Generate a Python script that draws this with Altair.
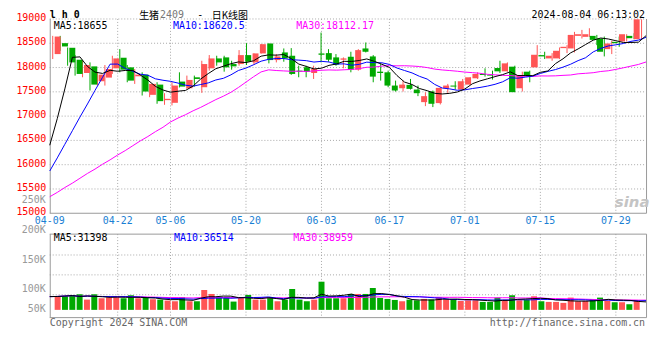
import altair as alt
import pandas as pd

# ---------------- data ----------------
dates = ["04-09","04-10","04-11","04-12","04-15","04-16","04-17","04-18","04-19",
         "04-22","04-23","04-24","04-25","04-26","04-29","04-30",
         "05-06","05-07","05-08","05-09","05-10","05-13","05-14","05-15","05-16","05-17",
         "05-20","05-21","05-22","05-23","05-24","05-27","05-28","05-29","05-30","05-31",
         "06-03","06-04","06-05","06-06","06-07","06-11","06-12","06-13","06-14",
         "06-17","06-18","06-19","06-20","06-21","06-24","06-25","06-26","06-27","06-28",
         "07-01","07-02","07-03","07-04","07-05","07-08","07-09","07-10","07-11","07-12",
         "07-15","07-16","07-17","07-18","07-19","07-22","07-23","07-24","07-25","07-26",
         "07-29","07-30","07-31","08-01","08-02"]

opens = [18277,18502,18407,18161,17888,18024,17718,17793,17984,18202,18004,17820,17854,17438,17649,17329,
         17274,17711,17574,17799,17595,17984,18188,18209,18072,18072,18256,18106,18291,18495,18154,18311,
         18243,17936,18004,17888,18290,18297,18209,18161,18222,17956,18393,18229,17915,17902,17629,17574,
         17643,17547,17288,17506,17268,17574,17629,17547,17649,17779,17868,17854,17990,17922,18018,17574,
         17915,18004,18256,18188,18188,18400,18393,18652,18632,18652,18598,18379,18529,18536,18652,18584]
highs = [18652,18652,18413,18257,18140,18106,17902,18052,18243,18379,18052,17970,17902,17663,17697,17472,
         17697,17902,17834,17834,18140,18257,18243,18243,18140,18359,18502,18291,18481,18495,18277,18393,
         18400,18038,18038,18038,18720,18379,18277,18209,18325,18379,18516,18256,18072,17936,17731,17731,
         17765,17629,17492,17527,17595,17663,17718,17765,17799,17902,17984,17936,18140,18106,18038,17915,
         17936,18461,18325,18297,18413,18461,18734,18775,18809,18672,18638,18550,18638,18686,18706,18993]
lows = [18175,18345,18038,17834,17800,17527,17629,17629,17868,17902,17697,17663,17424,17390,17254,17233,
        17220,17590,17561,17608,17479,17936,18038,17915,17956,18038,18052,18052,18291,18086,18106,18120,
        17850,17800,17800,17765,18106,18120,18038,17984,17902,17936,18311,17697,17731,17595,17506,17506,
        17547,17411,17206,17186,17240,17479,17547,17547,17649,17765,17813,17752,17888,17915,17493,17506,
        17697,18004,18175,18140,18175,18297,18311,18598,18632,18461,18229,18277,18427,18536,18584,18584]
closes = [18638,18434,18106,17868,18052,17649,17854,17970,18188,17956,17731,17854,17506,17663,17308,17356,
          17629,17608,17745,17765,18072,18188,18106,18004,18024,18256,18120,18291,18481,18154,18229,18188,
          17868,17915,17915,17970,18263,18161,18059,18188,17956,18359,18325,17813,17888,17629,17527,17649,
          17561,17472,17411,17254,17581,17629,17608,17718,17799,17868,17847,17834,17922,18086,17493,17847,
          17820,18263,18229,18243,18345,18427,18672,18686,18686,18570,18325,18495,18502,18686,18604,18993]
volumes = [52300,53600,57600,61500,40500,61500,45800,49700,49700,45800,57600,45800,48400,41900,40500,36600,
           34000,49700,34000,34000,78500,62800,49700,47100,32700,49700,58900,40500,40500,49700,34000,40500,
           82400,40500,34000,40500,111200,45800,45800,45800,62800,62800,62800,86300,47100,43200,39200,34000,
           40500,37900,43200,40500,48400,40500,40500,35300,37900,37900,31400,31400,48400,39200,57600,37900,
           39200,53600,34000,31400,31400,27500,48400,34000,35300,41900,48400,35300,30100,30100,22200,39200]

# moving-average values shown before a full window is available
ma5_early = [16400, 16950, 17560, 18210]
ma10_early = [15870, 16140, 16420, 16700, 16980, 17250, 17530, 17800, 18070]
ma30_early = [15340, 15430, 15530, 15620, 15720, 15820, 15910, 16010, 16100, 16200,
              16290, 16390, 16490, 16580, 16680, 16770, 16880, 16960, 17030, 17110,
              17180, 17260, 17340, 17410, 17490, 17590, 17700, 17810, 17910]

price_ticks = [15000, 15500, 16000, 16500, 17000, 17500, 18000, 18500, 19000]
price_grid = [15500, 16000, 16500, 17000, 17500, 18000, 18500, 19000]
vol_grid = [59700, 138200, 216700]
label_dates = ["04-09", "04-22", "05-06", "05-20", "06-03", "06-17", "07-01", "07-15", "07-29"]
vol_labels = ["250K", "200K", "150K", "100K", "50K"]

# ---------------- derived table ----------------
def moving(vals, w, early):
    out = []
    for i in range(len(vals)):
        if i < w - 1:
            out.append(early[i] if early is not None else sum(vals[:i + 1]) / (i + 1))
        else:
            out.append(sum(vals[i - w + 1:i + 1]) / w)
    return out

n = len(dates)
df = pd.DataFrame({
    "i": list(range(n)), "date": dates, "open": opens, "high": highs,
    "low": lows, "close": closes, "vol": volumes,
})
df["dir"] = ["up" if c >= o else "down" for o, c in zip(opens, closes)]
df["ma5"] = moving(closes, 5, ma5_early)
df["ma10"] = moving(closes, 10, ma10_early)
df["ma30"] = moving(closes, 30, ma30_early)
df["vma5"] = moving(volumes, 5, None)
df["vma10"] = moving(volumes, 10, None)
df["vma30"] = moving(volumes, 30, None)

lab = pd.DataFrame({"d": label_dates, "li": [dates.index(d) for d in label_dates]})
grid_lab = lab[lab["li"] > 0]
pg = pd.DataFrame({"p": price_grid})
vg = pd.DataFrame({"v": vol_grid})
one = pd.DataFrame({"k": [0]})

# ---------------- styling ----------------
W, H = 600, 300
RED, GREEN = "#ff5555", "#00a800"
MONO = "DejaVu Sans Mono"
CJK = "Noto Sans CJK SC"
GRID = "#a8a8a8"
BORDER = "#999999"
MAIN_BOTTOM = 195.5
VOL_TOP = 216.5

cx = alt.Scale(domain=[-0.4, n - 0.4], nice=False, zero=False)     # candle centres
lx = alt.Scale(domain=[0, n - 1], nice=False, zero=False)            # label / MA positions
py = alt.Scale(domain=[12862, 19000], nice=False, zero=False)       # price
vy = alt.Scale(domain=[-28650, 1148850], nice=False, zero=False)    # volume
col = alt.Color("dir:N", scale=alt.Scale(domain=["up", "down"], range=[RED, GREEN]), legend=None)

layers = []

# vertical grid lines
layers.append(alt.Chart(grid_lab).mark_rule(color=GRID, strokeDash=[1, 2]).encode(
    x=alt.X("li:Q", scale=lx, axis=None), y=alt.value(0), y2=alt.value(MAIN_BOTTOM)))
layers.append(alt.Chart(grid_lab).mark_rule(color=GRID, strokeDash=[1, 2]).encode(
    x=alt.X("li:Q", scale=lx, axis=None), y=alt.value(VOL_TOP), y2=alt.value(300.5)))
# horizontal grid lines
layers.append(alt.Chart(pg).mark_rule(color=GRID, strokeDash=[1, 2]).encode(
    y=alt.Y("p:Q", scale=py, axis=None), x=alt.value(0), x2=alt.value(600)))
layers.append(alt.Chart(vg).mark_rule(color=GRID, strokeDash=[1, 2]).encode(
    y=alt.Y("v:Q", scale=vy, axis=None), x=alt.value(0), x2=alt.value(600)))

# panel borders
def hline(y, x1=0, x2=600.5):
    return alt.Chart(one).mark_rule(color=BORDER).encode(x=alt.value(x1), x2=alt.value(x2), y=alt.value(y))

def vline(x, y1, y2):
    return alt.Chart(one).mark_rule(color=BORDER).encode(x=alt.value(x), y=alt.value(y1), y2=alt.value(y2))

layers += [vline(0.5, 0, MAIN_BOTTOM), vline(600.5, 0, MAIN_BOTTOM), hline(MAIN_BOTTOM),
           hline(VOL_TOP), hline(300.5), vline(0.5, VOL_TOP, 300.5), vline(600.5, VOL_TOP, 300.5)]

# volume bars and their averages
layers.append(alt.Chart(df).mark_bar(size=6).encode(
    x=alt.X("i:Q", scale=cx, axis=None),
    y=alt.Y("vol:Q", scale=vy, axis=None), y2=alt.datum(0), color=col))
for fld, c in [("vma30", "#ff00ff"), ("vma10", "#0000ff"), ("vma5", "#000000")]:
    layers.append(alt.Chart(df).mark_line(color=c, strokeWidth=1).encode(
        x=alt.X("i:Q", scale=lx, axis=None), y=alt.Y(f"{fld}:Q", scale=vy, axis=None)))

# candles
layers.append(alt.Chart(df).mark_rule(strokeWidth=1).encode(
    x=alt.X("i:Q", scale=cx, axis=None),
    y=alt.Y("low:Q", scale=py, axis=None), y2="high:Q", color=col))
layers.append(alt.Chart(df).mark_bar(size=6).encode(
    x=alt.X("i:Q", scale=cx, axis=None),
    y=alt.Y("open:Q", scale=py,
            axis=alt.Axis(values=price_ticks, format="d", title=None, ticks=False, domain=False,
                          grid=False, labelColor="#ff0000", labelFont=MONO, labelFontSize=10,
                          labelPadding=4, labelFlush=False, labelOverlap=False, labelOffset=-1.5)),
    y2="close:Q", color=col))

# price moving averages
for fld, c in [("ma30", "#ff00ff"), ("ma10", "#0000ff"), ("ma5", "#000000")]:
    layers.append(alt.Chart(df).mark_line(color=c, strokeWidth=1).encode(
        x=alt.X("i:Q", scale=lx, axis=None), y=alt.Y(f"{fld}:Q", scale=py, axis=None)))

# date labels
layers.append(alt.Chart(lab).mark_text(font=MONO, fontSize=10, color="#1a7fd4", baseline="middle").encode(
    x=alt.X("li:Q", scale=lx, axis=None), y=alt.value(203.5), text="d:N"))

# texts
def txt(s, x, y, color="#000000", size=10, font=MONO, align="left", weight="normal", style="normal"):
    return alt.Chart(one).mark_text(text=s, align=align, baseline="middle", font=font, fontSize=size,
                                    color=color, fontWeight=weight, fontStyle=style).encode(
        x=alt.value(x), y=alt.value(y))

vol_label_y = [182, 212.5, 242.5, 272, 292]
for s, y in zip(vol_labels, vol_label_y):
    layers.append(txt(s, -4, y, color="#999999", align="right"))

layers += [
    txt("l h 0", 0, -4, size=10, weight="bold"),
    txt("生猪", 90, -3, size=10, font=CJK),
    txt("2409", 111, -4, color="#777777", size=10),
    txt("-", 151.5, -4, size=10, align="center"),
    txt("日K线图", 163, -3, size=10, font=CJK),
    txt("2024-08-04 06:13:02", 599, -4, align="right"),
    txt("MA5:18655", 4, 7.5),
    txt("MA10:18620.5", 124, 7.5, color="#0000ff"),
    txt("MA30:18112.17", 248, 7.5, color="#ff00ff"),
    txt("MA5:31398", 4, 220.5),
    txt("MA10:36514", 125, 220.5, color="#0000ff"),
    txt("MA30:38959", 245, 220.5, color="#ff00ff"),
    txt("Copyright 2024 SINA.COM", 0, 305.5, color="#666666"),
    txt("http://finance.sina.com.cn", 599, 306, color="#666666", align="right"),
    txt("sina", 586, 184, color="#c4c4c4", size=15, font="DejaVu Sans", weight="bold", style="italic",
        align="center"),
]

chart = alt.layer(*layers).resolve_scale(x="independent", y="independent").properties(
    width=W, height=H,
    autosize=alt.AutoSizeParams(type="none"),
    padding={"left": 42, "top": 10, "right": 6, "bottom": 24},
).configure_view(stroke=None)

chart.save("out.html", embed_options={"renderer": "svg", "actions": False})
